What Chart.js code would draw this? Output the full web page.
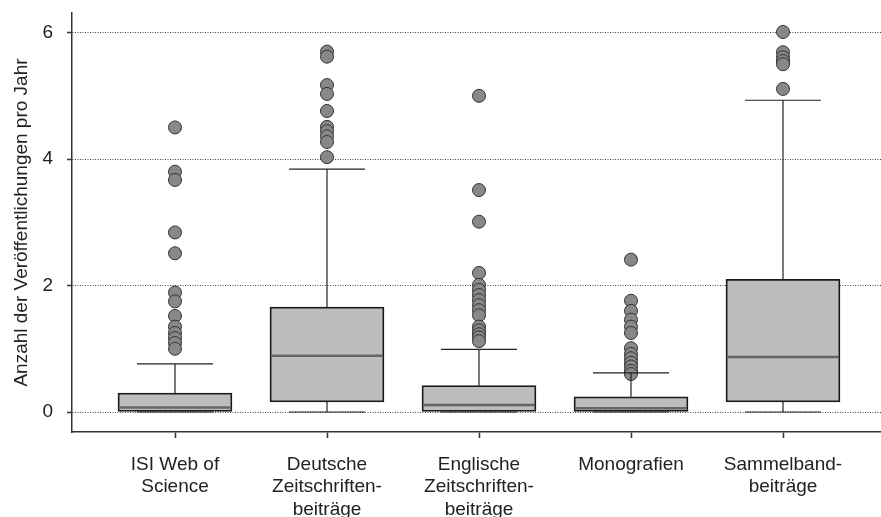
<!DOCTYPE html>
<html>
<head>
<meta charset="utf-8">
<script src="https://cdn.jsdelivr.net/npm/chart.js@4/dist/chart.umd.min.js"></script>
<style>
  html, body { margin: 0; padding: 0; background: #fff; }
  #wrap { width: 881px; height: 517px; }
</style>
</head>
<body>
<div id="wrap"><canvas id="c" width="881" height="517"></canvas></div>
<script>
// ---- data ----
const categories = [
  ['ISI Web of', 'Science'],
  ['Deutsche', 'Zeitschriften-', 'beiträge'],
  ['Englische', 'Zeitschriften-', 'beiträge'],
  ['Monografien'],
  ['Sammelband-', 'beiträge']
];
const whiskerLow  = [0, 0, 0, 0, 0];
const q1          = [0, 0.16, 0, 0, 0.16];
const median      = [0.07, 0.89, 0.11, 0.06, 0.87];
const q3          = [0.30, 1.66, 0.42, 0.24, 2.10];
const whiskerHigh = [0.76, 3.84, 0.99, 0.62, 4.93];
const outliersISI = [4.50, 3.80, 3.67, 2.84, 2.51, 1.89, 1.75, 1.52, 1.35, 1.25, 1.17, 1.09, 1.00];
const outliersDeutsch = [5.70, 5.62, 5.17, 5.03, 4.76, 4.51, 4.44, 4.36, 4.27, 4.03];
const outliersEnglisch = [5.00, 3.51, 3.01, 2.20, 2.01, 1.93, 1.85, 1.77, 1.69, 1.61, 1.53, 1.35, 1.29, 1.23, 1.18, 1.12];
const outliersMono = [2.41, 1.76, 1.60, 1.46, 1.35, 1.25, 1.01, 0.92, 0.85, 0.78, 0.72, 0.65, 0.60];
const outliersSammel = [6.01, 5.69, 5.61, 5.55, 5.50, 5.11];
const outliers = [outliersISI, outliersDeutsch, outliersEnglisch, outliersMono, outliersSammel];
const yTicks = [0, 2, 4, 6];
const yTitle = 'Anzahl der Veröffentlichungen pro Jahr';

// ---- build library data ----
const boxData = categories.map((c, i) => ({ x: i + 1, y: [q1[i], q3[i]] }));
const outlierData = [];
outliers.forEach((arr, i) => arr.forEach(v => outlierData.push({ x: i + 1, y: v })));

const BOX_W = 114, CAP_W = 76;

const boxPlugin = {
  id: 'boxParts',
  afterDatasetsDraw(chart) {
    const ctx = chart.ctx, xs = chart.scales.x, ys = chart.scales.y;
    ctx.save();
    categories.forEach((c, i) => {
      const cx = xs.getPixelForValue(i + 1);
      // whiskers
      ctx.strokeStyle = '#222';
      ctx.lineWidth = 1.2;
      ctx.beginPath();
      ctx.moveTo(cx, ys.getPixelForValue(q3[i]));
      ctx.lineTo(cx, ys.getPixelForValue(whiskerHigh[i]));
      ctx.moveTo(cx - CAP_W / 2, ys.getPixelForValue(whiskerHigh[i]));
      ctx.lineTo(cx + CAP_W / 2, ys.getPixelForValue(whiskerHigh[i]));
      if (q1[i] > whiskerLow[i]) {
        ctx.moveTo(cx, ys.getPixelForValue(q1[i]));
        ctx.lineTo(cx, ys.getPixelForValue(whiskerLow[i]));
      }
      ctx.moveTo(cx - CAP_W / 2, ys.getPixelForValue(whiskerLow[i]));
      ctx.lineTo(cx + CAP_W / 2, ys.getPixelForValue(whiskerLow[i]));
      ctx.stroke();
      // median
      ctx.strokeStyle = '#666';
      ctx.lineWidth = 2.5;
      ctx.beginPath();
      const my = ys.getPixelForValue(median[i]);
      ctx.moveTo(cx - BOX_W / 2 + 1, my);
      ctx.lineTo(cx + BOX_W / 2 - 1, my);
      ctx.stroke();
    });
    ctx.restore();
  }
};

Chart.defaults.font.family = '"Liberation Sans", Arial, sans-serif';
Chart.defaults.font.size = 19;
Chart.defaults.color = '#222';

new Chart(document.getElementById('c'), {
  type: 'bar',
  data: {
    datasets: [
      {
        type: 'scatter',
        data: outlierData,
        backgroundColor: '#888',
        borderColor: '#333',
        borderWidth: 1,
        pointRadius: 6.5,
        order: 0
      },
      {
        type: 'bar',
        data: boxData,
        backgroundColor: '#bcbdbc',
        borderColor: '#1a1a1a',
        borderWidth: 1.8,
        borderSkipped: false,
        barThickness: BOX_W,
        grouped: false,
        order: 1
      }
    ]
  },
  options: {
    responsive: false,
    animation: false,
    events: [],
    layout: { autoPadding: false, padding: { top: 13, left: 0, right: 0, bottom: 0 } },
    plugins: { legend: { display: false }, tooltip: { enabled: false } },
    scales: {
      x: {
        type: 'linear',
        offset: false,
        min: 1 - 103 / 152,
        max: 5 + 98 / 152,
        afterBuildTicks: s => { s.ticks = categories.map((c, i) => ({ value: i + 1 })); },
        afterFit: s => { s.height = 85; s.paddingLeft = 0; s.paddingRight = 0; },
        ticks: {
          callback: (v) => categories[Math.round(v) - 1] || '',
          padding: 15,
          maxRotation: 0,
          minRotation: 0,
          autoSkip: false,
          color: '#222',
          font: { size: 19, lineHeight: 1.19 }
        },
        grid: { offset: false, drawOnChartArea: false, drawTicks: true, tickLength: 6, tickColor: '#333', tickWidth: 1.5 },
        border: { display: true, color: '#333', width: 1.5 }
      },
      y: {
        type: 'linear',
        min: -0.316,
        max: 6.31,
        afterBuildTicks: s => { s.ticks = yTicks.map(v => ({ value: v })); },
        afterFit: s => { s.width = 72; s.paddingTop = 0; s.paddingBottom = 0; },
        ticks: { padding: 14, color: '#222', font: { size: 19 } },
        grid: {
          color: '#444', lineWidth: 1, borderDash: [1, 1.5],
          drawTicks: true, tickLength: 5, tickColor: '#333', tickWidth: 1.5, tickBorderDash: []
        },
        border: { display: true, color: '#333', width: 1.5, dash: [1, 1.5] },
        title: {
          display: true, text: yTitle, color: '#222',
          font: { size: 19 }, padding: { top: 10, bottom: 0 }
        }
      }
    }
  },
  plugins: [boxPlugin]
});
</script>
</body>
</html>
